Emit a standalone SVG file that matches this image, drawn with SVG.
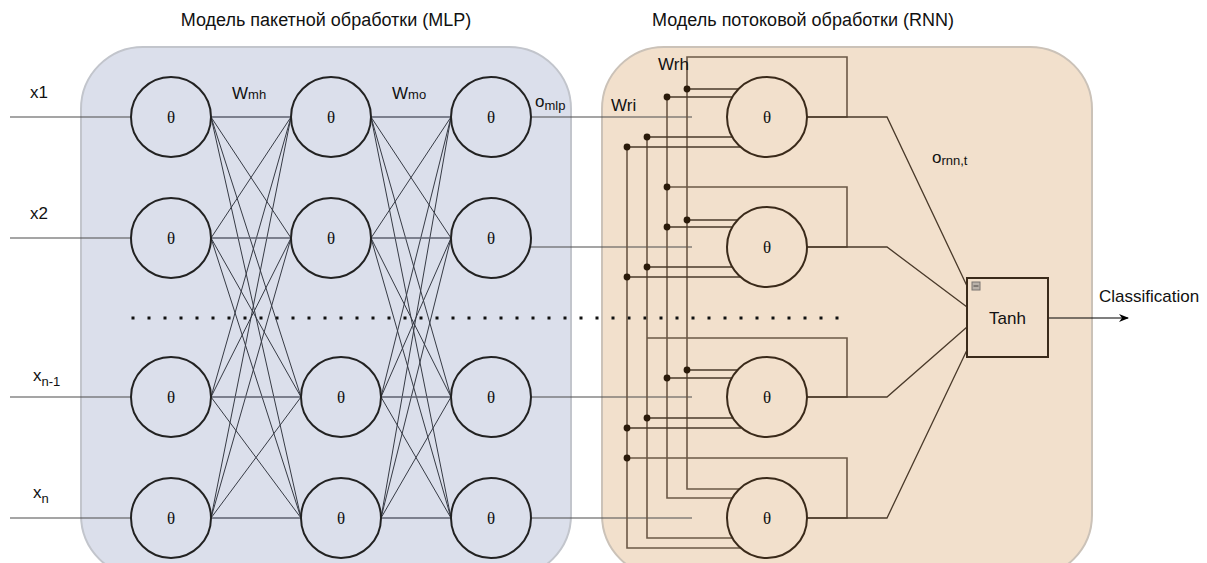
<svg xmlns="http://www.w3.org/2000/svg" width="1207" height="563" viewBox="0 0 1207 563">
  <defs>
    <style>
      .title { font-family: "Liberation Sans", Arial, sans-serif; font-size: 18px; fill: #111; text-anchor: middle; }
      .lbl { font-family: "Liberation Sans", Arial, sans-serif; font-size: 17px; fill: #111; }
      .sub { font-size: 13px; }
      .theta { font-family: "Liberation Serif", "DejaVu Serif", serif; font-size: 17px; fill: #111; text-anchor: middle; }
      .mlp-node { fill: #dbdfeb; stroke: #222; stroke-width: 2; }
      .rnn-node { fill: #f2e0cc; stroke: #3a2a1a; stroke-width: 2; }
      .mesh { fill: none; stroke: #363a44; stroke-width: 1; }
      .mesh-h { fill: none; stroke: #5d6270; stroke-width: 1.6; }
      .wire { fill: none; stroke: #4d4d4d; stroke-width: 1.2; }
      .bus { fill: none; stroke: #6b5846; stroke-width: 1.6; }
      .bus-in { fill: none; stroke: #4a3a2a; stroke-width: 1.3; }
      .dot { fill: #2a1a0a; }
    </style>
    <marker id="arrow" viewBox="0 0 10 10" refX="9" refY="5" markerWidth="10" markerHeight="10" markerUnits="userSpaceOnUse" orient="auto">
      <path d="M0 1 L10 5 L0 9 L3 5 Z" fill="#000"/>
    </marker>
  </defs>

  <rect width="1207" height="563" fill="#ffffff"/>

  <!-- containers -->
  <g id="mlp-panel">
    <rect x="81" y="47" width="490" height="530" rx="62" ry="62" fill="#dbdfeb" stroke="#c2c5cc" stroke-width="2"/>
    <text class="title" x="326" y="26">Модель пакетной обработки (MLP)</text>
  </g>
  <g id="rnn-panel">
    <rect x="602" y="47" width="490" height="530" rx="62" ry="62" fill="#f2e0cc" stroke="#cbc2b8" stroke-width="2"/>
    <text class="title" x="803" y="26">Модель потоковой обработки (RNN)</text>
  </g>

  <!-- separator between first and last rows -->
  <line x1="131.5" y1="318" x2="840" y2="318" stroke="#111" stroke-width="3" stroke-dasharray="3 13"/>

  <g id="connectors">
    <!-- inputs -->
    <path class="wire" d="M10 117 H131 M10 238 H131 M10 397 H131 M10 518 H131"/>

    <!-- input layer to hidden layer -->
    <path class="mesh" d="M211 117 L291 238 M211 117 L301 397 M211 117 L301 518
      M211 238 L291 117 M211 238 L301 397 M211 238 L301 518
      M211 397 L291 117 M211 397 L291 238 M211 397 L301 518
      M211 518 L291 117 M211 518 L291 238 M211 518 L301 397"/>
    <path class="mesh-h" d="M211 117 H291 M211 238 H291 M211 397 H301 M211 518 H301"/>

    <!-- hidden layer to output layer -->
    <path class="mesh" d="M371 117 L451 238 M371 117 L451 397 M371 117 L451 518
      M371 238 L451 117 M371 238 L451 397 M371 238 L451 518
      M381 397 L451 117 M381 397 L451 238 M381 397 L451 518
      M381 518 L451 117 M381 518 L451 238 M381 518 L451 397"/>
    <path class="mesh-h" d="M371 117 H451 M371 238 H451 M381 397 H451 M381 518 H451"/>

    <!-- MLP outputs feeding the RNN cells -->
    <path class="wire" d="M531 117 H692 M530 247 H692 M531 397 H692 M531 518 H692"/>

    <!-- recurrent state buses -->
    <path class="bus" d="M807 117 H847 V57 H687 V489 H741"/>
    <path class="bus" d="M807 247 H847 V187 H667 M667 97 V498 H733"/>
    <path class="bus" d="M807 397 H847 V338 H647 M647 137 V538 H733"/>
    <path class="bus" d="M807 518 H847 V458 H627 M627 147 V548 H741"/>

    <!-- bus taps into cells -->
    <path class="bus-in" d="M687 89 H740 M667 97 H733 M647 137 H733 M627 147 H741
      M687 220 H740 M667 227 H733 M647 267 H733 M627 277 H741
      M687 370 H740 M667 378 H733 M647 418 H733 M627 428 H741"/>

    <!-- RNN outputs into Tanh -->
    <path class="bus-in" d="M807 117 H887 L967 286 M807 247 H887 L967 307 M807 397 H887 L967 327 M807 518 H887 L967 350"/>

    <!-- final output -->
    <line x1="1048" y1="318" x2="1128" y2="318" stroke="#000" stroke-width="1.2" marker-end="url(#arrow)"/>

    <!-- junction dots -->
    <g class="dot">
      <circle cx="687" cy="89" r="3.4"/><circle cx="667" cy="97" r="3.4"/>
      <circle cx="647" cy="137" r="3.4"/><circle cx="627" cy="147" r="3.4"/>
      <circle cx="667" cy="187" r="3.4"/>
      <circle cx="687" cy="220" r="3.4"/><circle cx="667" cy="227" r="3.4"/>
      <circle cx="647" cy="267" r="3.4"/><circle cx="627" cy="277" r="3.4"/>
      <circle cx="687" cy="370" r="3.4"/><circle cx="667" cy="378" r="3.4"/>
      <circle cx="647" cy="418" r="3.4"/><circle cx="627" cy="428" r="3.4"/>
      <circle cx="627" cy="458" r="3.4"/>
    </g>
  </g>

  <!-- MLP input layer -->
  <g id="mlp-in-1"><circle class="mlp-node" cx="171" cy="117" r="40"/><text class="theta" x="171" y="123">θ</text></g>
  <g id="mlp-in-2"><circle class="mlp-node" cx="171" cy="238" r="40"/><text class="theta" x="171" y="244">θ</text></g>
  <g id="mlp-in-3"><circle class="mlp-node" cx="171" cy="397" r="40"/><text class="theta" x="171" y="403">θ</text></g>
  <g id="mlp-in-4"><circle class="mlp-node" cx="171" cy="518" r="40"/><text class="theta" x="171" y="524">θ</text></g>

  <!-- MLP hidden layer -->
  <g id="mlp-hid-1"><circle class="mlp-node" cx="331" cy="117" r="40"/><text class="theta" x="331" y="123">θ</text></g>
  <g id="mlp-hid-2"><circle class="mlp-node" cx="331" cy="238" r="40"/><text class="theta" x="331" y="244">θ</text></g>
  <g id="mlp-hid-3"><circle class="mlp-node" cx="341" cy="397" r="40"/><text class="theta" x="341" y="403">θ</text></g>
  <g id="mlp-hid-4"><circle class="mlp-node" cx="341" cy="518" r="40"/><text class="theta" x="341" y="524">θ</text></g>

  <!-- MLP output layer -->
  <g id="mlp-out-1"><circle class="mlp-node" cx="491" cy="117" r="40"/><text class="theta" x="491" y="123">θ</text></g>
  <g id="mlp-out-2"><circle class="mlp-node" cx="491" cy="238" r="40"/><text class="theta" x="491" y="244">θ</text></g>
  <g id="mlp-out-3"><circle class="mlp-node" cx="491" cy="397" r="40"/><text class="theta" x="491" y="403">θ</text></g>
  <g id="mlp-out-4"><circle class="mlp-node" cx="491" cy="518" r="40"/><text class="theta" x="491" y="524">θ</text></g>

  <!-- RNN cells -->
  <g id="rnn-1"><circle class="rnn-node" cx="767" cy="117" r="40"/><text class="theta" x="767" y="123">θ</text></g>
  <g id="rnn-2"><circle class="rnn-node" cx="767" cy="247" r="40"/><text class="theta" x="767" y="253">θ</text></g>
  <g id="rnn-3"><circle class="rnn-node" cx="767" cy="397" r="40"/><text class="theta" x="767" y="403">θ</text></g>
  <g id="rnn-4"><circle class="rnn-node" cx="767" cy="518" r="40"/><text class="theta" x="767" y="524">θ</text></g>

  <!-- Tanh aggregator -->
  <g id="tanh">
    <rect x="967" y="278" width="81" height="79" fill="#f2e0cc" stroke="#3a2a1a" stroke-width="2"/>
    <rect x="972" y="282" width="8" height="8" fill="#b9b1a9" stroke="#7a7470" stroke-width="1"/>
    <line x1="973.5" y1="286" x2="978.5" y2="286" stroke="#4a4440" stroke-width="1"/>
    <text class="lbl" x="1007.5" y="324" text-anchor="middle" font-size="16">Tanh</text>
  </g>

  <!-- labels -->
  <g id="labels">
    <text class="lbl" x="30" y="98">x1</text>
    <text class="lbl" x="30" y="219">x2</text>
    <text class="lbl" x="33" y="381">x<tspan class="sub" font-size="14" dy="5">n-1</tspan></text>
    <text class="lbl" x="33" y="498">x<tspan class="sub" font-size="14" dy="5">n</tspan></text>
    <text class="lbl" x="232" y="99">W<tspan class="sub" font-size="14">mh</tspan></text>
    <text class="lbl" x="392" y="99">W<tspan class="sub" font-size="14">mo</tspan></text>
    <text class="lbl" x="535" y="107">o<tspan class="sub" font-size="14" dy="3">mlp</tspan></text>
    <text class="lbl" x="611" y="111" font-size="13">Wri</text>
    <text class="lbl" x="658" y="70" font-size="13.5">Wrh</text>
    <text class="lbl" x="932" y="163">o<tspan class="sub" font-size="13" dy="2">rnn,t</tspan></text>
    <text class="lbl" x="1099" y="302">Classification</text>
  </g>
</svg>
